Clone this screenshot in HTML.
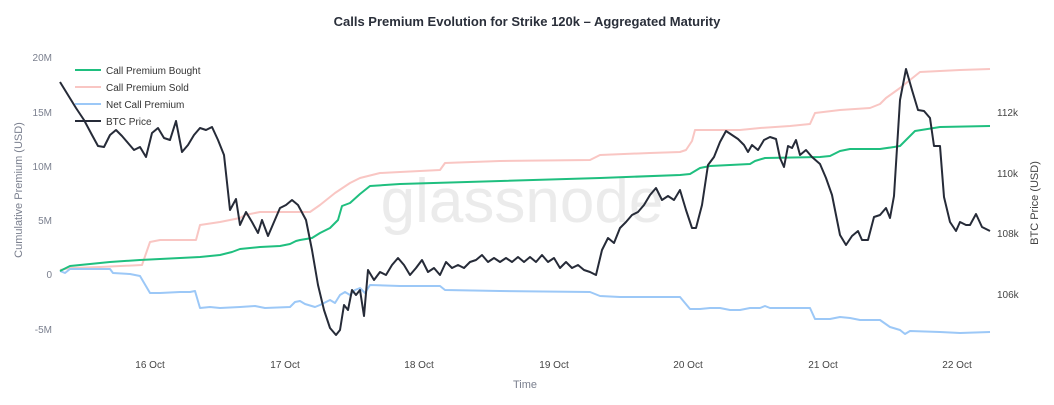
<!DOCTYPE html>
<html><head><meta charset="utf-8"><style>
body{margin:0;background:#fff;}
svg{display:block;font-family:"Liberation Sans",Arial,sans-serif;}
</style></head><body>
<svg width="1054" height="405" viewBox="0 0 1054 405">
<text x="527" y="26" text-anchor="middle" font-size="13" font-weight="bold" fill="#2a2f3a">Calls Premium Evolution for Strike 120k – Aggregated Maturity</text>
<text x="522" y="222" text-anchor="middle" font-size="62" fill="#ebebeb">glassnode</text>
<g font-size="10" fill="#7a7f8e" text-anchor="end">
<text x="52" y="61">20M</text><text x="52" y="116">15M</text><text x="52" y="170">10M</text><text x="52" y="224">5M</text><text x="52" y="278">0</text><text x="52" y="333">-5M</text>
</g>
<g font-size="10" fill="#444" text-anchor="start">
<text x="997" y="116">112k</text><text x="997" y="177">110k</text><text x="997" y="237">108k</text><text x="997" y="298">106k</text>
</g>
<g font-size="10" fill="#444" text-anchor="middle">
<text x="150" y="368">16 Oct</text><text x="285" y="368">17 Oct</text><text x="419" y="368">18 Oct</text><text x="554" y="368">19 Oct</text><text x="688" y="368">20 Oct</text><text x="823" y="368">21 Oct</text><text x="957" y="368">22 Oct</text>
</g>
<text x="525" y="388" text-anchor="middle" font-size="11" fill="#7a7f8e">Time</text>
<text transform="translate(22,190) rotate(-90)" text-anchor="middle" font-size="11" fill="#7a7f8e">Cumulative Premium (USD)</text>
<text transform="translate(1038,203) rotate(-90)" text-anchor="middle" font-size="11" fill="#444">BTC Price (USD)</text>
<g fill="none" stroke-width="2" stroke-linejoin="round">
<polyline stroke="#f9c6c3" points="60,270 70,268 100,267 142,265 150,242 160,240 196,240 200,225 220,222 240,218 245,215 260,212 310,212 320,205 335,193 350,183 360,178 380,173 400,172 440,170 445,163 500,161 590,160 600,155 650,153 680,152 686,150 692,141 695,130 740,130 760,128 790,126 810,124 815,113 840,110 870,108 880,104 886,98 900,88 910,80 920,72 940,71 960,70 990,69"/>
<polyline stroke="#9cc8f7" points="60,271 65,273 70,269 90,269 110,269 113,273 130,274 140,276 150,293 160,293 180,292 190,292 195,291 200,308 210,307 220,308 240,307 255,306 265,308 290,307 295,302 300,301 305,304 315,307 320,305 330,300 335,303 340,295 345,292 350,295 355,290 360,288 365,293 370,285 400,286 440,286 445,290 500,291 590,292 600,296 620,297 680,297 690,309 700,309 710,308 720,308 730,310 740,310 750,308 760,308 765,306 770,308 810,308 815,319 830,319 840,317 850,318 860,320 880,320 890,327 900,330 905,334 910,331 940,332 960,333 990,332"/>
<polyline stroke="#1fbf7f" points="60,271 70,266 90,264 110,262 140,260 180,258 200,257 220,255 232,252 240,249 260,247 280,246 290,244 296,241 300,240 312,238 320,233 330,228 338,220 342,206 350,203 360,194 370,186 400,184 600,178 680,175 690,174 700,168 710,166 750,164 755,161 765,158 820,157 830,156 840,151 850,149 880,149 894,147 900,146 908,138 915,131 940,127 990,126"/>
<polyline stroke="#262b38" points="60,82 68,95 76,108 84,120 92,135 98,146 104,147 110,135 116,130 122,136 128,143 134,150 140,147 146,157 152,133 158,128 164,138 170,140 176,121 182,152 188,145 194,135 200,128 206,130 212,127 218,140 224,155 230,210 236,199 240,225 246,212 252,222 258,233 262,220 268,236 274,222 280,208 286,205 292,200 298,205 306,220 312,250 318,285 324,310 330,328 336,335 340,330 344,305 348,310 352,290 356,295 360,290 364,316 368,270 374,280 380,272 386,275 392,265 398,258 404,265 410,275 416,268 422,260 428,272 434,268 440,275 446,262 452,268 458,265 464,268 470,262 476,260 482,255 488,262 494,258 500,262 506,258 512,262 518,257 524,262 530,257 536,262 542,255 548,262 554,258 560,268 566,262 572,268 578,265 584,270 590,272 596,275 602,250 608,238 614,243 620,228 626,222 632,215 638,212 644,205 650,195 656,188 662,200 668,196 674,200 680,190 686,210 692,228 696,228 702,205 708,165 714,157 720,142 726,131 732,135 738,139 744,145 748,152 752,145 758,150 764,140 770,137 776,139 780,158 784,167 788,146 792,148 796,140 800,155 806,150 812,157 820,164 826,178 832,195 840,235 846,245 852,236 858,231 862,240 868,240 874,217 880,215 886,208 890,218 894,196 900,100 906,69 912,90 918,110 924,111 930,118 934,146 940,146 944,197 950,222 956,231 960,222 966,225 970,225 976,214 982,227 990,231"/>
</g>
<g font-size="10" fill="#333">
<line x1="75" y1="70" x2="101" y2="70" stroke="#1fbf7f" stroke-width="2"/><text x="106" y="74">Call Premium Bought</text>
<line x1="75" y1="87" x2="101" y2="87" stroke="#f9c6c3" stroke-width="2"/><text x="106" y="91">Call Premium Sold</text>
<line x1="75" y1="104" x2="101" y2="104" stroke="#9cc8f7" stroke-width="2"/><text x="106" y="108">Net Call Premium</text>
<line x1="75" y1="121" x2="101" y2="121" stroke="#262b38" stroke-width="2"/><text x="106" y="125">BTC Price</text>
</g>
</svg>
</body></html>
